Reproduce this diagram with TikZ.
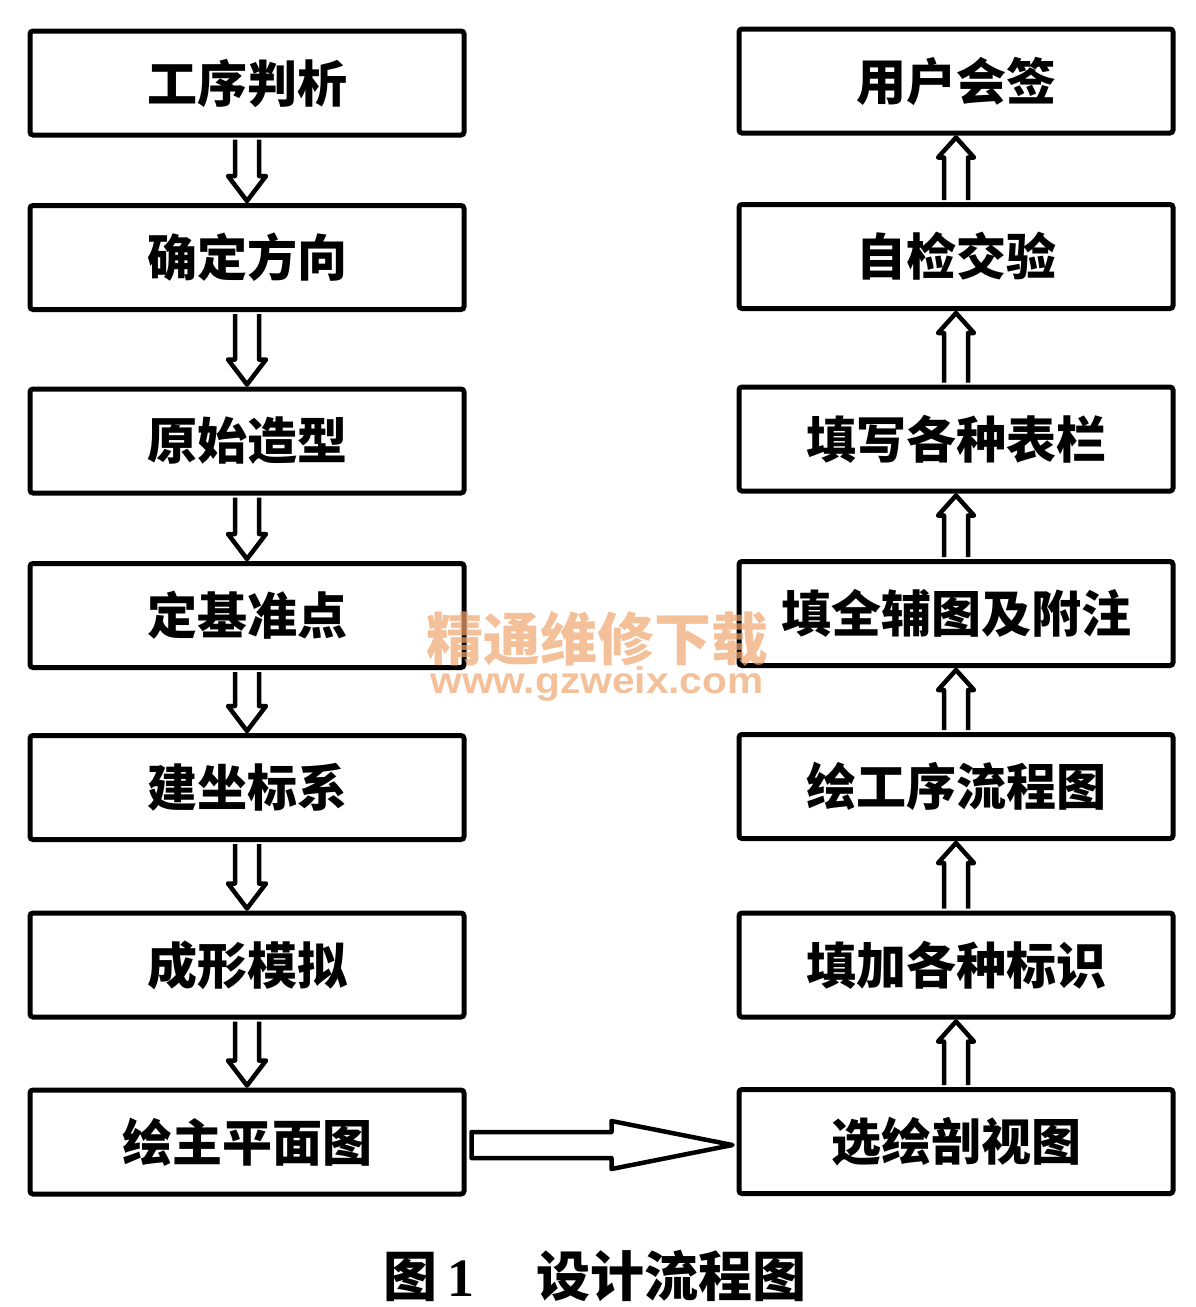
\documentclass[tikz,border=0pt]{standalone}
\usepackage{fontspec}
\setmainfont{Liberation Serif}
\newfontfamily\cjk{Noto Sans CJK SC}
\newfontfamily\wmsans{Liberation Sans}
\usetikzlibrary{calc}
\newcommand\hollowdown[2]{%
  \path[hollow] let \p1=(#1.south), \p2=(#2.north) in
    (\x1-12pt,\y1-2pt) -- (\x1-12pt,\y2+27pt) -- (\x1-19pt,\y2+27pt) -- (\x1,\y2+2pt)
    -- (\x1+19pt,\y2+27pt) -- (\x1+12pt,\y2+27pt) -- (\x1+12pt,\y1-2pt);}
\newcommand\hollowup[2]{%
  \path[hollow] let \p1=(#1.north), \p2=(#2.south) in
    (\x1-12pt,\y1+2pt) -- (\x1-12pt,\y2-22pt) -- (\x1-18pt,\y2-22pt) -- (\x1,\y2-2pt)
    -- (\x1+18pt,\y2-22pt) -- (\x1+12pt,\y2-22pt) -- (\x1+12pt,\y1+2pt);}
\begin{document}
\begin{tikzpicture}[x=1pt,y=-1pt,
  box/.style={draw, line width=5pt, rounded corners=3pt, minimum width=434pt,
    minimum height=104pt, inner sep=0pt, font=\cjk\bfseries\fontsize{50}{50}\selectfont},
  hollow/.style={draw, line width=4.5pt, fill=white, line join=round},
  wm/.style={text={rgb,255:red,240;green,165;blue,110}, text opacity=0.7, inner sep=0pt}]
\useasboundingbox (0,0) rectangle (1196,1307);
% left column
\node[box] (L1) at (247,83) {工序判析};
\node[box] (L2) at (247,257.5) {确定方向};
\node[box] (L3) at (247,441) {原始造型};
\node[box] (L4) at (247,615.5) {定基准点};
\node[box] (L5) at (247,787.5) {建坐标系};
\node[box] (L6) at (247,965) {成形模拟};
\node[box] (L7) at (247,1142) {绘主平面图};
% right column
\node[box] (R1) at (956,81) {用户会签};
\node[box] (R2) at (956,256.5) {自检交验};
\node[box] (R3) at (956,439) {填写各种表栏};
\node[box] (R4) at (956,613.5) {填全辅图及附注};
\node[box] (R5) at (956,786.5) {绘工序流程图};
\node[box] (R6) at (956,965) {填加各种标识};
\node[box] (R7) at (956,1141.5) {选绘剖视图};
% arrows
\hollowdown{L1}{L2}
\hollowdown{L2}{L3}
\hollowdown{L3}{L4}
\hollowdown{L4}{L5}
\hollowdown{L5}{L6}
\hollowdown{L6}{L7}
\hollowup{R7}{R6}
\hollowup{R6}{R5}
\hollowup{R5}{R4}
\hollowup{R4}{R3}
\hollowup{R3}{R2}
\hollowup{R2}{R1}
\path[hollow] let \p1=(L7.east), \p2=(R7.west) in
  (\x1+5pt,\y1-16pt) -- (\x2-125pt,\y1-16pt) -- (\x2-125pt,\y1-27pt) -- (\x2-4pt,\y1-3pt)
  -- (\x2-125pt,\y1+21pt) -- (\x2-125pt,\y1+10pt) -- (\x1+5pt,\y1+10pt) -- cycle;
% watermark
\node[wm, font=\cjk\bfseries\fontsize{57}{57}\selectfont] (wm1) at (597,639) {精通维修下载};
\node[wm, font=\wmsans\bfseries\fontsize{37}{37}\selectfont, xscale=1.1] (wm2) at (597,684) {www.gzweix.com};
% caption
\node[anchor=west, inner sep=0pt, font=\bfseries\fontsize{54}{54}\selectfont] (cap) at (383,1276)
  {{\cjk 图}\hspace{10pt}1\hspace{62pt}{\cjk 设计流程图}};
\end{tikzpicture}
\end{document}
